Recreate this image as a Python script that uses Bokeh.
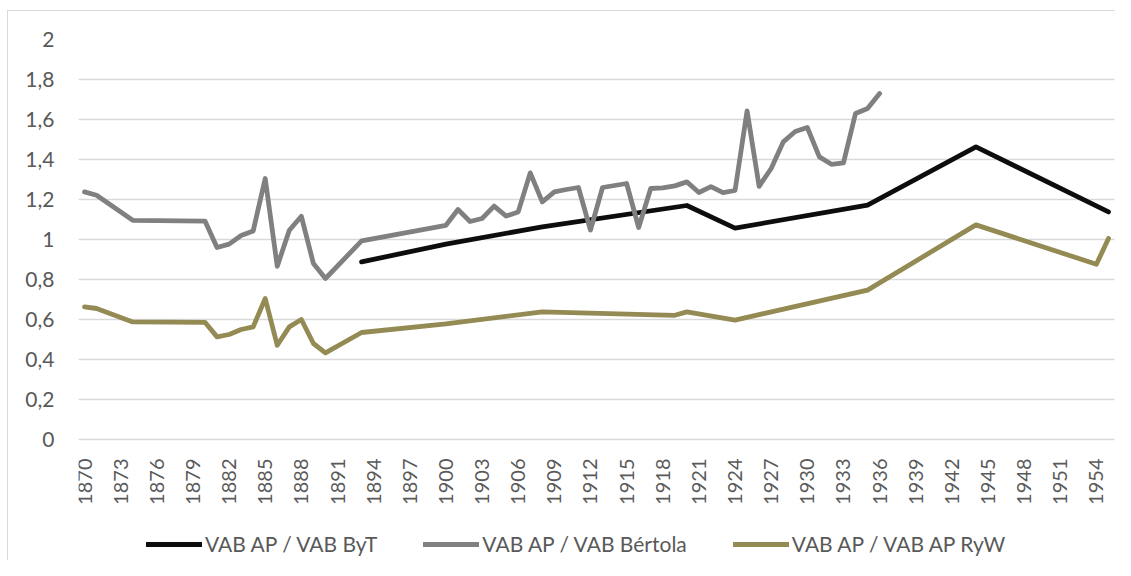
from bokeh.plotting import figure
from bokeh.models import Range1d, FixedTicker, CustomJSTickFormatter, Legend, LegendItem, ColumnDataSource
from bokeh.embed import file_html
from bokeh.resources import INLINE
import math

# ---- data ----
byt_years = [1893, 1900, 1908, 1920, 1924, 1935, 1944, 1955]
byt_vals = [0.888, 0.977, 1.063, 1.170, 1.057, 1.172, 1.463, 1.138]

bertola_years = [1870, 1871, 1874, 1880, 1881, 1882, 1883, 1884, 1885, 1886, 1887, 1888, 1889, 1890,
                 1893, 1900, 1901, 1902, 1903, 1904, 1905, 1906, 1907, 1908, 1909, 1910, 1911, 1912,
                 1913, 1914, 1915, 1916, 1917, 1918, 1919, 1920, 1921, 1922, 1923, 1924, 1925, 1926,
                 1927, 1928, 1929, 1930, 1931, 1932, 1933, 1934, 1935, 1936]
bertola_vals = [1.238, 1.221, 1.096, 1.092, 0.960, 0.977, 1.020, 1.043, 1.305, 0.866, 1.046, 1.116, 0.880, 0.805,
                0.993, 1.071, 1.150, 1.090, 1.105, 1.167, 1.117, 1.138, 1.333, 1.188, 1.238, 1.250, 1.260, 1.047,
                1.260, 1.270, 1.280, 1.060, 1.255, 1.258, 1.268, 1.288, 1.235, 1.264, 1.234, 1.245, 1.643, 1.266,
                1.355, 1.488, 1.540, 1.560, 1.413, 1.376, 1.383, 1.630, 1.655, 1.730]

ryw_years = [1870, 1871, 1874, 1880, 1881, 1882, 1883, 1884, 1885, 1886, 1887, 1888, 1889, 1890,
             1893, 1900, 1908, 1919, 1920, 1924, 1935, 1944, 1954, 1955]
ryw_vals = [0.663, 0.655, 0.588, 0.586, 0.513, 0.525, 0.550, 0.563, 0.705, 0.471, 0.563, 0.600, 0.480, 0.433,
            0.535, 0.578, 0.638, 0.621, 0.638, 0.597, 0.747, 1.073, 0.876, 1.005]

x_ticks = list(range(1870, 1955, 3))
y_ticks = [0, 0.2, 0.4, 0.6, 0.8, 1.0, 1.2, 1.4, 1.6, 1.8, 2.0]

series_names = ["VAB AP / VAB ByT", "VAB AP / VAB Bértola", "VAB AP / VAB AP RyW"]
series_colors = ["#0d0d0d", "#808080", "#948a54"]

FONT = "Lato"
TXT = "#595959"

# frame: top at y=2 (39px), 200px per unit, extends to the bottom of the figure
p = figure(width=1115, height=560, output_backend="svg", toolbar_location=None,
           x_range=Range1d(1869.5, 1955.5), y_range=Range1d(-0.605, 2),
           min_border_left=78, min_border_right=1, min_border_top=39, min_border_bottom=0)
p.outline_line_color = None
p.border_fill_color = None
p.background_fill_color = None
p.styles = {"box-shadow": "inset 7px 0 0 #ffffff, inset 0 10px 0 #ffffff, "
                          "inset 8px 0 0 #d9d9d9, inset 0 11px 0 #d9d9d9"}

# axes
p.xaxis.fixed_location = 0
p.xaxis.ticker = FixedTicker(ticks=x_ticks)
p.xaxis.major_label_orientation = math.pi / 2
p.xaxis.major_label_standoff = 19
p.xaxis.major_tick_out = 0
p.xaxis.major_tick_in = 0
p.xaxis.axis_line_color = None
p.xaxis.major_tick_line_color = None
p.xaxis.minor_tick_line_color = None
p.xaxis.major_label_text_font = FONT
p.xaxis.major_label_text_font_size = "20px"
p.xaxis.major_label_text_color = TXT

p.yaxis.ticker = FixedTicker(ticks=y_ticks)
p.yaxis.formatter = CustomJSTickFormatter(code="var s = (Math.round(tick*10)/10).toString(); return s.replace('.', ',');")
p.yaxis.major_label_standoff = 24
p.yaxis.major_tick_out = 0
p.yaxis.major_tick_in = 0
p.yaxis.axis_line_color = None
p.yaxis.major_tick_line_color = None
p.yaxis.minor_tick_line_color = None
p.yaxis.major_label_text_font = FONT
p.yaxis.major_label_text_font_size = "21px"
p.yaxis.major_label_text_color = TXT

p.xgrid.grid_line_color = None
p.ygrid.ticker = FixedTicker(ticks=y_ticks)
p.ygrid.grid_line_color = "#d9d9d9"
p.ygrid.grid_line_width = 1.5

renderers = []
for xs, ys, c in [(byt_years, byt_vals, series_colors[0]),
                  (bertola_years, bertola_vals, series_colors[1]),
                  (ryw_years, ryw_vals, series_colors[2])]:
    src = ColumnDataSource(dict(x=xs, y=ys))
    r = p.line("x", "y", source=src, line_color=c, line_width=4.8,
               line_cap="round", line_join="round")
    renderers.append(r)

legend = Legend(items=[LegendItem(label=n, renderers=[r]) for n, r in zip(series_names, renderers)],
                orientation="horizontal", location=(68, 4))
legend.border_line_color = None
legend.background_fill_color = None
legend.padding = 0
legend.margin = 0
legend.spacing = 46
legend.glyph_width = 56
legend.glyph_height = 20
legend.label_height = 20
legend.label_standoff = 3
legend.label_text_font = FONT
legend.label_text_font_size = "21px"
legend.label_text_color = TXT
p.add_layout(legend, "center")

open("out.html", "w").write(file_html(p, INLINE))
